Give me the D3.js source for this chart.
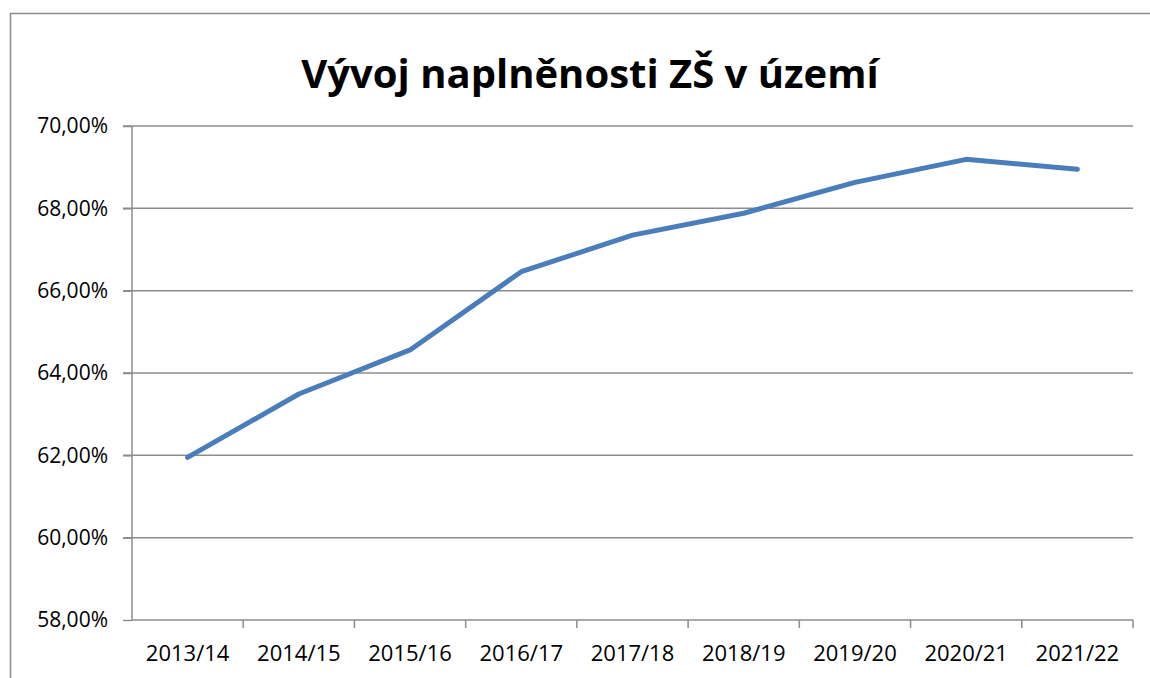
<!DOCTYPE html>
<html>
<head>
<meta charset="utf-8">
<script src="https://cdn.jsdelivr.net/npm/d3@7"></script>
<style>
  body { margin: 0; background: #fff; }
  text { font-family: "Open Sans", "Noto Sans", sans-serif; fill: #000; }
</style>
</head>
<body>
<div id="chart"></div>
<script>
var years = ["2013/14", "2014/15", "2015/16", "2016/17", "2017/18", "2018/19", "2019/20", "2020/21", "2021/22"];
var fill = [61.95, 63.49, 64.56, 66.46, 67.35, 67.88, 68.63, 69.19, 68.95];
var yTicks = [58, 60, 62, 64, 66, 68, 70];
var title = "Vývoj naplněnosti ZŠ v území";

var svgwidth = 1150, svgheight = 678;
var margin = { top: 126, left: 132, right: 17, bottom: 58 };
var width = svgwidth - margin.left - margin.right;
var height = svgheight - margin.top - margin.bottom;

var svg = d3.select("#chart").append("svg")
  .attr("width", svgwidth)
  .attr("height", svgheight);

// chart frame (cut off at right and bottom)
svg.append("path")
  .attr("d", "M10.5," + svgheight + "V13.5H" + svgwidth)
  .attr("fill", "none")
  .attr("stroke", "#8c8c8c")
  .attr("stroke-width", 1.5);

var t = svg.append("text")
  .attr("x", 590)
  .attr("y", 88)
  .attr("text-anchor", "middle")
  .style("font-weight", "bold")
  .style("font-size", "40px")
  .text(title);
// squeeze to the narrow width of the original font
var tw = t.node().getComputedTextLength();
if (tw > 580) t.style("font-size", (40 * 580 / tw) + "px");

var g = svg.append("g")
  .attr("transform", `translate(${margin.left}, ${margin.top})`);

var xscale = d3.scaleBand().domain(years).range([0, width]);
var yscale = d3.scaleLinear().domain([58, 70]).range([height, 0]);

// gridlines
g.selectAll(".grid")
  .data(yTicks.slice(1))
  .enter()
  .append("line")
  .attr("x1", -9)
  .attr("x2", width)
  .attr("y1", d => yscale(d))
  .attr("y2", d => yscale(d))
  .attr("stroke", "#8c8c8c")
  .attr("stroke-width", 1.5);

var yaxis = d3.axisLeft(yscale)
  .tickValues(yTicks)
  .tickSize(9)
  .tickPadding(15)
  .tickFormat(d => d3.format(".2f")(d).replace(".", ",") + "%");

var ya = g.append("g").call(yaxis);
ya.select(".domain").attr("stroke", "#8c8c8c").attr("stroke-width", 1.5).attr("d", `M0,0V${height}`);
ya.selectAll(".tick line").attr("stroke", "#8c8c8c").attr("stroke-width", 1.5);
ya.selectAll(".tick text").style("font-size", "21px").attr("fill", "#000");

var xaxis = d3.axisBottom(xscale).tickSize(0).tickPadding(25);
var xa = g.append("g")
  .attr("transform", `translate(0, ${height})`)
  .call(xaxis);
xa.select(".domain").attr("stroke", "#8c8c8c").attr("stroke-width", 1.5).attr("d", `M0,0H${width}`);
xa.selectAll(".tick text").style("font-size", "22px").attr("fill", "#000");

// category boundary ticks
g.selectAll(".xtick")
  .data(years)
  .enter()
  .append("line")
  .attr("x1", d => xscale(d) + xscale.bandwidth())
  .attr("x2", d => xscale(d) + xscale.bandwidth())
  .attr("y1", height)
  .attr("y2", height + 8)
  .attr("stroke", "#8c8c8c")
  .attr("stroke-width", 1.5);

var line = d3.line()
  .x((d, i) => xscale(years[i]) + xscale.bandwidth() / 2)
  .y(d => yscale(d));

g.append("path")
  .datum(fill)
  .attr("d", line)
  .attr("fill", "none")
  .attr("stroke", "#4a7ebb")
  .attr("stroke-width", 5)
  .attr("stroke-linecap", "round")
  .attr("stroke-linejoin", "round");
</script>
</body>
</html>
